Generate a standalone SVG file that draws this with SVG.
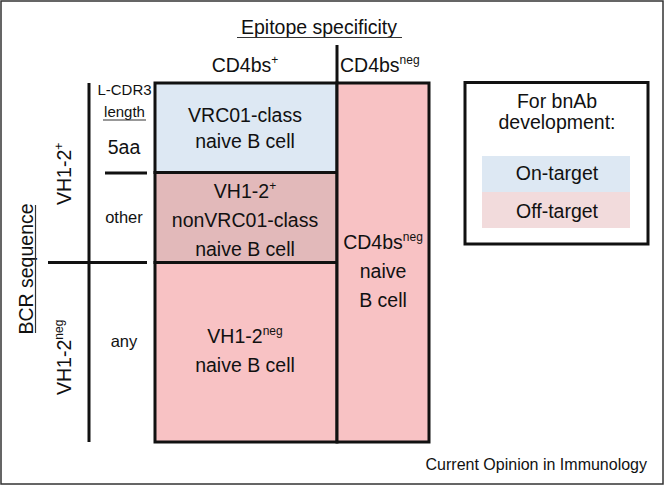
<svg xmlns="http://www.w3.org/2000/svg" width="665" height="487" viewBox="0 0 665 487">
<style>
text{font-family:"Liberation Sans",Arial,Helvetica,sans-serif;fill:#111;}
.m{font-size:19.5px;text-anchor:middle;}
.s{font-size:15px;text-anchor:middle;}
.o{font-size:16.5px;text-anchor:middle;}
.sup{font-size:12px;}
.cell{stroke:#111;stroke-width:3;}
.ln{stroke:#111;stroke-width:3;fill:none;}
.ul{stroke:#333;stroke-width:1.2;fill:none;}
</style>
<rect x="1" y="1" width="662" height="483" fill="#fff" stroke="#333" stroke-width="1.5"/>

<g id="header">
<text class="m" x="319" y="34">Epitope specificity</text>
<line class="ul" x1="237" y1="37.5" x2="402" y2="37.5"/>
<text class="m" x="245" y="72">CD4bs<tspan class="sup" dy="-8">+</tspan></text>
<line class="ln" x1="337" y1="45" x2="337" y2="83"/>
<text x="340" y="72" style="font-size:19.5px">CD4bs<tspan class="sup" dy="-8">neg</tspan></text>
</g>

<g id="row-labels">
<text class="m" transform="translate(33 269) rotate(-90)">BCR sequence</text>
<line class="ul" x1="35.5" y1="205" x2="35.5" y2="333"/>
<text transform="translate(71 205) rotate(-90)" style="font-size:19.5px">VH1-2<tspan class="sup" dy="-8">+</tspan></text>
<text transform="translate(71 395) rotate(-90)" style="font-size:19.5px">VH1-2<tspan class="sup" dy="-8">neg</tspan></text>
<text class="s" x="124.5" y="95">L-CDR3</text>
<text class="s" x="124.5" y="117">length</text>
<line class="ul" x1="103" y1="120" x2="146" y2="120"/>
<text class="m" x="124" y="154">5aa</text>
<text class="o" x="124" y="223">other</text>
<text class="o" x="124" y="347">any</text>
</g>

<g id="connectors">
<line class="ln" x1="89" y1="83" x2="89" y2="442"/>
<line class="ln" x1="48" y1="262.5" x2="147" y2="262.5"/>
<line class="ln" x1="105" y1="173" x2="147" y2="173"/>
</g>

<g id="vrc01-class">
<rect class="cell" x="155" y="83" width="182" height="89.5" fill="#dde8f3"/>
<text class="m" x="245" y="122">VRC01-class</text>
<text class="m" x="245" y="148">naive B cell</text>
</g>

<g id="vh12-nonvrc01">
<rect class="cell" x="155" y="172.5" width="182" height="90" fill="#e2b9ba"/>
<text class="m" x="245" y="198">VH1-2<tspan class="sup" dy="-8">+</tspan></text>
<text class="m" x="245" y="227">nonVRC01-class</text>
<text class="m" x="245" y="256">naive B cell</text>
</g>

<g id="vh12-neg">
<rect class="cell" x="155" y="262.5" width="182" height="179.5" fill="#f8c2c4"/>
<text class="m" x="245" y="343">VH1-2<tspan class="sup" dy="-8">neg</tspan></text>
<text class="m" x="245" y="371.5">naive B cell</text>
</g>

<g id="cd4bs-neg">
<rect class="cell" x="337" y="83" width="92" height="359" fill="#f8c2c4"/>
<text class="m" x="383" y="249">CD4bs<tspan class="sup" dy="-8">neg</tspan></text>
<text class="m" x="383" y="278">naive</text>
<text class="m" x="383" y="307">B cell</text>
</g>

<g id="legend">
<rect class="cell" x="465" y="82.5" width="183" height="161.5" fill="#fff"/>
<text class="m" x="557" y="107.5">For bnAb</text>
<text class="m" x="557" y="129">development:</text>
<rect x="482" y="156" width="148" height="36" fill="#dde8f3"/>
<rect x="482" y="192" width="148" height="36" fill="#f2dbdc"/>
<text class="m" x="557" y="180">On-target</text>
<text class="m" x="557" y="218">Off-target</text>
</g>

<text x="647" y="470" style="font-size:16px;text-anchor:end">Current Opinion in Immunology</text>
</svg>
